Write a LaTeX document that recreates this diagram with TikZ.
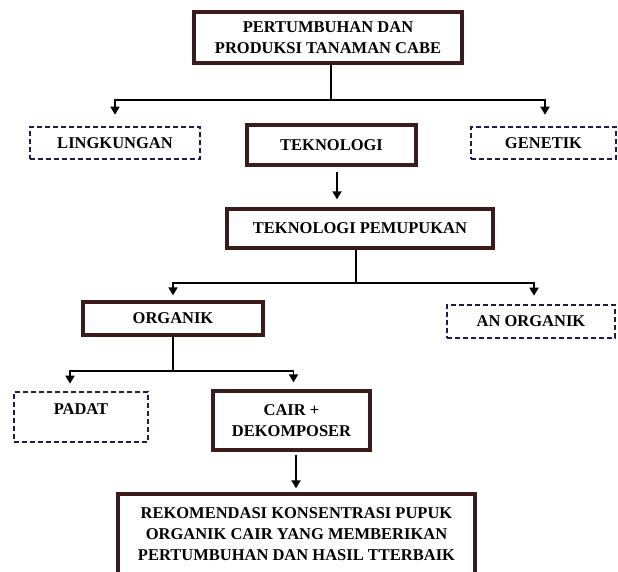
\documentclass[tikz,border=0pt]{standalone}
\usepackage{fontspec}
\setmainfont{Liberation Serif}
\usetikzlibrary{arrows.meta,calc}
\definecolor{boxbrown}{RGB}{58,28,28}
\definecolor{boxnavy}{RGB}{28,28,72}
\begin{document}
\begin{tikzpicture}[x=1pt,y=-1pt,
  solidbox/.style={draw=boxbrown,line width=3.2pt,fill=white,rectangle,inner sep=2pt,
    align=center,font=\fontsize{16.5}{21}\selectfont\bfseries,text=black},
  dashbox/.style={draw=boxnavy,line width=2.6pt,dash pattern=on 5pt off 3pt,fill=white,rectangle,
    inner sep=2pt,align=center,font=\fontsize{16.5}{21}\selectfont\bfseries,text=black},
  conn/.style={draw=black,line width=1.7pt},
  arr/.style={conn,-{Triangle[length=8pt,width=9pt]}}]
\useasboundingbox (0,0) rectangle (618,572);
\fill[white] (0,0) rectangle (618,572);

\node[solidbox,minimum width=268pt,minimum height=51pt] (top) at (328,37.5)
  {PERTUMBUHAN DAN\\PRODUKSI TANAMAN CABE};
\node[dashbox,minimum width=170pt,minimum height=32pt] (ling) at (115,143) {LINGKUNGAN};
\node[solidbox,minimum width=169pt,minimum height=40pt] (tek) at (331.5,145) {TEKNOLOGI};
\node[dashbox,minimum width=145pt,minimum height=32pt] (gen) at (543.5,143) {GENETIK};
\node[solidbox,minimum width=266pt,minimum height=39pt] (tp) at (360,228.5) {TEKNOLOGI PEMUPUKAN};
\node[solidbox,minimum width=180pt,minimum height=33pt] (org) at (173,318.5) {ORGANIK};
\node[dashbox,minimum width=168pt,minimum height=33pt] (anorg) at (531,321.5) {AN ORGANIK};
\node[dashbox,minimum width=134pt,minimum height=50pt,text depth=16pt] (padat) at (81,417) {PADAT};
\node[solidbox,minimum width=157pt,minimum height=59pt] (cair) at (291.5,420.5) {CAIR +\\DEKOMPOSER};
\node[solidbox,minimum width=357pt,minimum height=80pt] (rek) at (296.5,534)
  {REKOMENDASI KONSENTRASI PUPUK\\ORGANIK CAIR YANG MEMBERIKAN\\PERTUMBUHAN DAN HASIL TTERBAIK};

% level 1
\coordinate (j1) at (331,100);
\draw[conn] (top.south -| j1) -- (j1);
\coordinate (l1) at ([yshift=11pt]ling.north);
\coordinate (g1) at ([xshift=1.5pt,yshift=11pt]gen.north);
\draw[arr] (j1) -| (l1);
\draw[arr] (j1) -| (g1);

% teknologi -> pemupukan
\coordinate (a1) at ([xshift=5.5pt,yshift=-5pt]tek.south);
\coordinate (a2) at ([yshift=8pt]tp.north);
\draw[arr] (a1) -- (a1 |- a2);

% pemupukan -> organik / an organik
\coordinate (j2) at (356,283);
\draw[conn] (tp.south -| j2) -- (j2);
\coordinate (o1) at ([yshift=5pt]org.north);
\coordinate (n1) at ([xshift=3pt,yshift=8pt]anorg.north);
\draw[arr] (j2) -| (o1);
\draw[arr] (j2) -| (n1);

% organik -> padat / cair
\coordinate (j3) at (173,371);
\draw[conn] (org.south -| j3) -- (j3);
\coordinate (p1) at ([xshift=-11pt,yshift=7pt]padat.north);
\coordinate (c1) at ([xshift=2pt,yshift=7pt]cair.north);
\draw[arr] (j3) -| (p1);
\draw[arr] (j3) -| (c1);

% cair -> rekomendasi
\coordinate (b1) at ([xshift=4.5pt,yshift=-3pt]cair.south);
\coordinate (b2) at ([yshift=4pt]rek.north);
\draw[arr] (b1) -- (b1 |- b2);
\end{tikzpicture}
\end{document}
